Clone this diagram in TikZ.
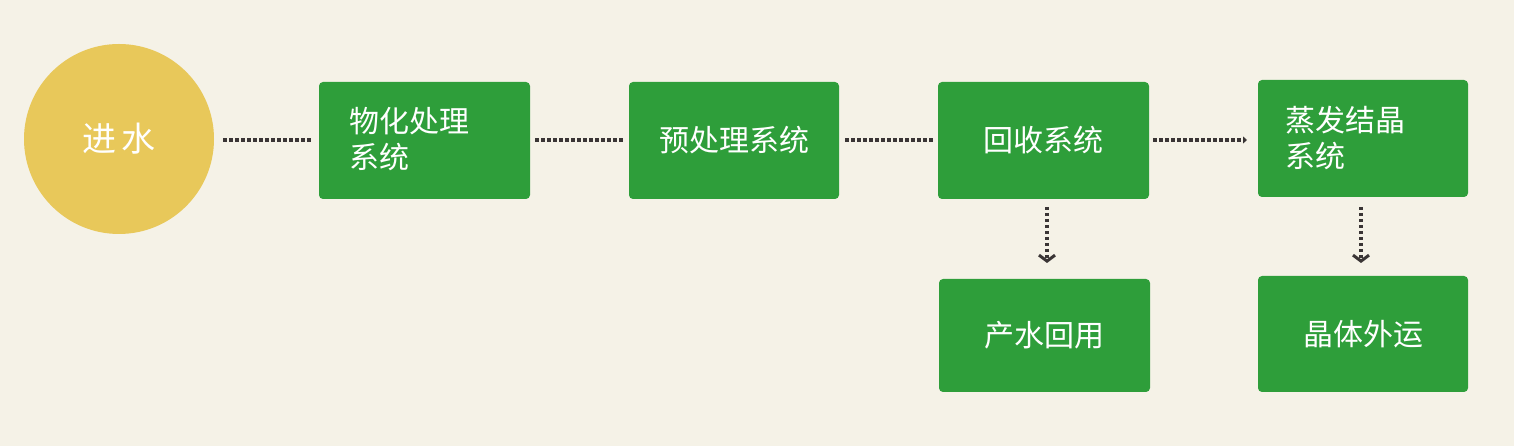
\documentclass[tikz,border=0pt]{standalone}
\usepackage{fontspec}
\setmainfont{Noto Sans CJK SC}[BoldFont={Noto Sans CJK SC Bold}]
\usetikzlibrary{arrows.meta}
\definecolor{bg}{HTML}{F5F2E7}
\definecolor{gr}{HTML}{2E9E3A}
\definecolor{ye}{HTML}{E8C85A}
\definecolor{dk}{HTML}{3A3535}
\tikzset{
 box/.style={fill=gr,rounded corners=4pt,text=white,font=\fontsize{30}{36}\selectfont,anchor=north west,inner sep=0pt},
 dots/.style={dk,line width=3.5pt,dash pattern=on 3.5pt off 2.5pt},
 vdots/.style={dots,-{Straight Barb[length=6pt,width=16pt,line width=3pt]}},
}
\begin{document}
\begin{tikzpicture}[x=1pt,y=1pt]
\fill[bg] (0,0) rectangle (1514,446);
\useasboundingbox (0,0) rectangle (1514,446);
\node[fill=ye,circle,minimum size=190pt,inner sep=0pt,text=white,font=\fontsize{34}{40}\selectfont] (a) at (119,307) {进\,水};
\newcommand\bx[6]{\fill[gr,rounded corners=4pt] (#2,446-#3) rectangle (#4,446-#5);
 \coordinate (#1) at ({(#2+#4)/2},{446-(#3+#5)/2});
 \coordinate (#1w) at (#2,{446-(#3+#5)/2});
 \coordinate (#1e) at (#4,{446-(#3+#5)/2});
 \coordinate (#1s) at ({(#2+#4)/2},446-#5);}
\bx{b1}{319}{82}{530}{199}{}
\bx{b2}{629}{82}{839}{199}{}
\bx{b3}{938}{82}{1149}{199}{}
\bx{b4}{1258}{80}{1468}{197}{}
\bx{b5}{939}{279}{1150}{392}{}
\bx{b6}{1258}{276}{1468}{392}{}
\tikzset{t/.style={text=white,font=\fontsize{30}{36}\selectfont,align=left}}
\node[t,anchor=west] (t1) at (346,307) {物化处理\\系统};
\node[t] (t2) at (b2) {预处理系统};
\node[t] (t3) at (b3) {回收系统};
\node[t,anchor=west] (t4) at (1282,307.5) {蒸发结晶\\系统};
\node[t] (t5) at (b5) {产水回用};
\node[t] (t6) at (b6) {晶体外运};
\draw[dots] (223,306) -- (312,306);
\draw[dots] (535,306) -- (624,306);
\draw[dots] (845,306) -- (933,306);
\draw[dots,-{Triangle[length=4pt,width=7pt]}] (1153,306) -- (1247,306);
\draw[vdots] (1047,446-207) -- (1047,446-263);
\draw[vdots] (1361,446-207) -- (1361,446-263);
\end{tikzpicture}
\end{document}
